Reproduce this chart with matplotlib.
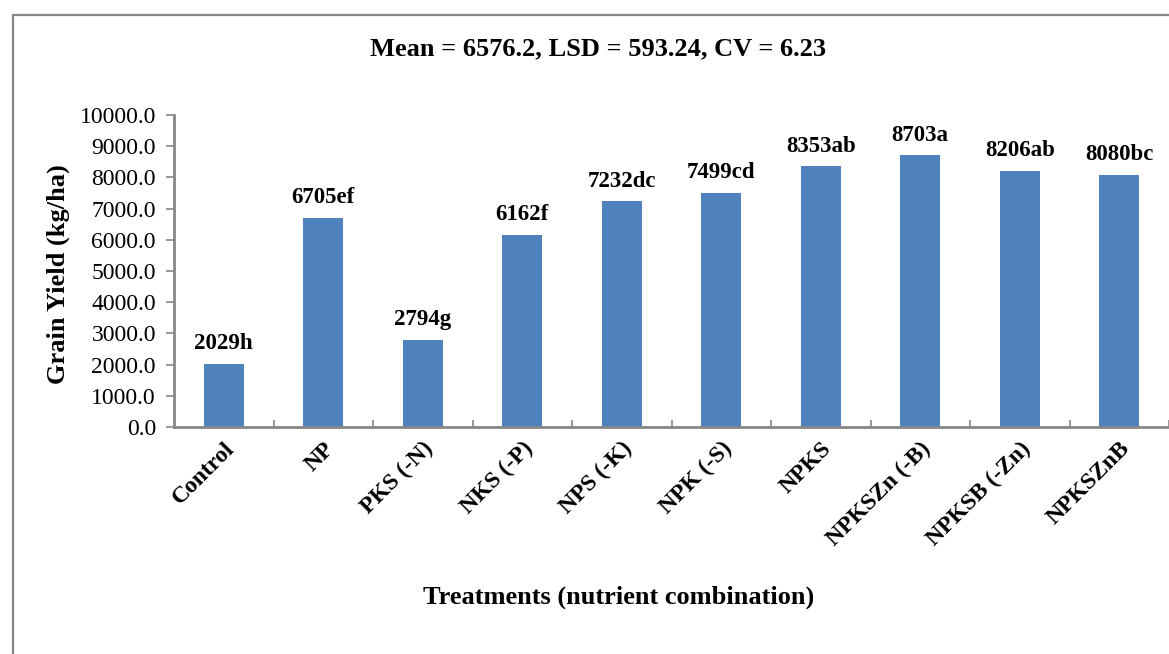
import matplotlib.pyplot as plt
from matplotlib.patches import Rectangle
from matplotlib.ticker import FormatStrFormatter
import numpy as np

treatments = ["Control", "NP", "PKS (-N)", "NKS (-P)", "NPS (-K)", "NPK (-S)",
              "NPKS", "NPKSZn (-B)", "NPKSB (-Zn)", "NPKSZnB"]
grain_yield = [2029, 6705, 2794, 6162, 7232, 7499, 8353, 8703, 8206, 8080]
letters = ["h", "ef", "g", "f", "dc", "cd", "ab", "a", "ab", "bc"]

title = "Mean = 6576.2, LSD = 593.24, CV = 6.23"
blue = "#4F81BD"
grey = "#868686"

plt.rcParams['font.family'] = ['Liberation Serif', 'DejaVu Serif']

W, H = 1169, 654
fig = plt.figure(figsize=(W / 100, H / 100), dpi=100)

# outer chart frame (only top and left edges visible)
fig.patches.append(Rectangle((13 / W, -0.1), 1.2, (H - 15) / H + 0.1,
                             transform=fig.transFigure, fill=False,
                             edgecolor=grey, linewidth=1.6))

ax = fig.add_axes([174 / W, (H - 427) / H, (W - 174) / W, (427 - 115) / H])
x = np.arange(len(treatments))
ax.bar(x, grain_yield, width=0.4, color=blue, zorder=2)

for xi, v, l in zip(x, grain_yield, letters):
    ax.annotate(f"{v}{l}", (xi, v), xytext=(0, 7), textcoords="offset points",
                ha="center", va="bottom", fontsize=16.5, fontweight="bold")

ax.set_ylim(0, 10000)
ax.set_xlim(-0.5, -0.5 + (W - 174) / 100.6)
ax.set_yticks(np.arange(0, 10001, 1000))
ax.yaxis.set_major_formatter(FormatStrFormatter("%.1f"))
ax.tick_params(axis="y", direction="out", length=6, color=grey, width=1.2,
               labelsize=17, pad=7)

ax.set_xticks(x)
ax.set_xticklabels(treatments, rotation=45, ha="right", va="top",
                   rotation_mode="anchor", fontsize=17, fontweight="bold")
ax.tick_params(axis="x", length=0, pad=8)
ax.set_xticks(np.arange(0.5, len(treatments), 1), minor=True)
ax.tick_params(axis="x", which="minor", direction="in", length=5,
               color=grey, width=1.2)

for s in ["top", "right"]:
    ax.spines[s].set_visible(False)
for s in ["left", "bottom"]:
    ax.spines[s].set_color(grey)
    ax.spines[s].set_linewidth(2)

fig.text(598 / W, 1 - 49 / H, title, ha="center", va="center",
         fontsize=19, fontweight="bold")
fig.text(58 / W, 1 - 274 / H, "Grain Yield (kg/ha)", rotation=90,
         ha="center", va="center", fontsize=19, fontweight="bold")
fig.text(619 / W, 1 - 597 / H, "Treatments (nutrient combination)",
         ha="center", va="center", fontsize=19, fontweight="bold")

fig.savefig("out.png", dpi=100)
